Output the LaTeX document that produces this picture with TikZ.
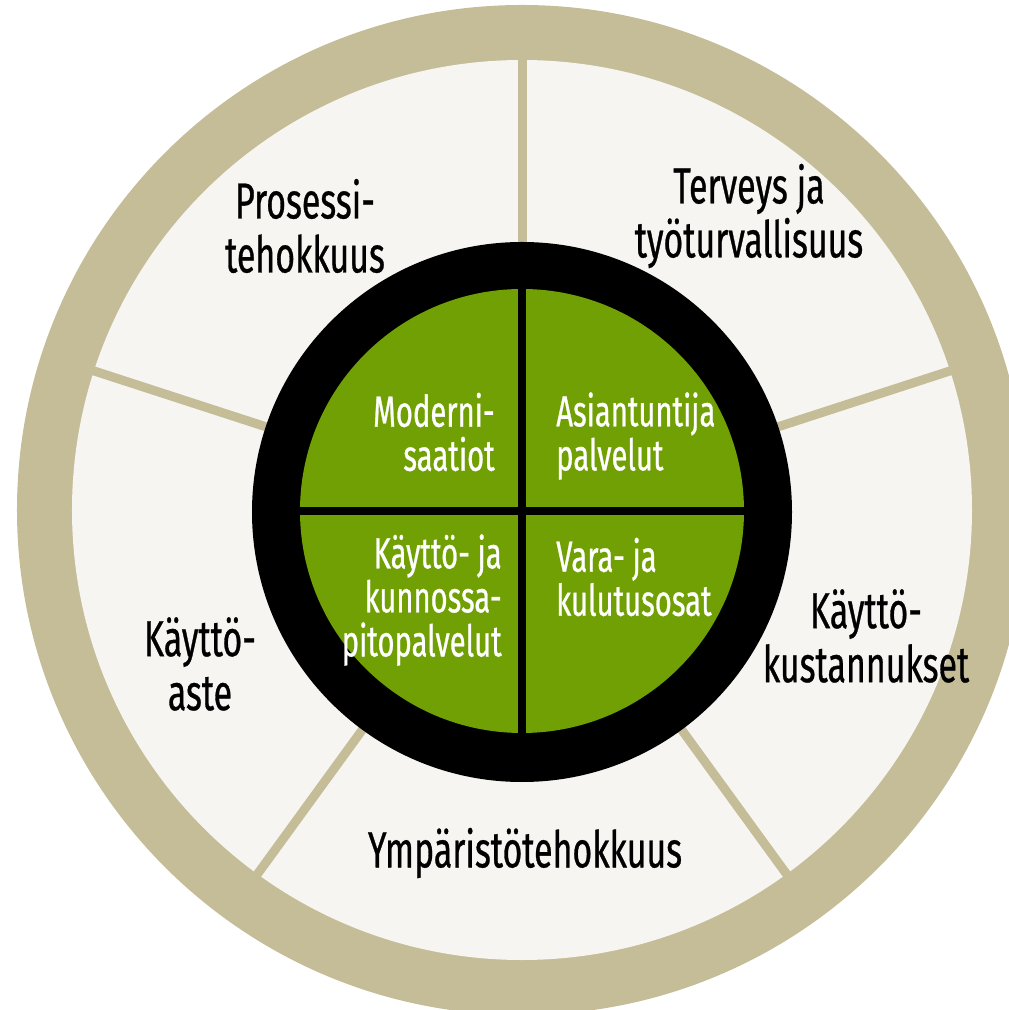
\documentclass[tikz,border=0pt]{standalone}
\usepackage{fontspec}
\setmainfont[FakeStretch=0.67, FakeBold=0.6]{Fira Sans}
\definecolor{ringtan}{HTML}{C4BD97}
\definecolor{paper}{HTML}{F6F5F1}
\definecolor{leafgreen}{HTML}{71A005}
\tikzset{
  outerlabel/.style={align=center, inner sep=0pt, font=\fontsize{36}{38.4}\selectfont},
  innerlabel/.style={text=white, inner sep=0pt, font=\fontsize{31}{31.3}\selectfont},
  divider/.style={ringtan, line width=0.225cm}
}
\begin{document}
\begin{tikzpicture}[x=0.025cm, y=0.025cm]
	\useasboundingbox (-522,-500) rectangle (486,510);
	\fill[ringtan] (0,0) circle (505);
	\fill[paper] (0,0) circle (450);
	
	\foreach \a in {18, 90, 162, 234, 306}{
		\draw[divider] (\a:265) -- (\a:460);
	}
	
	\fill[black] (0,-2) circle (270);
	\fill[leafgreen] (0,-1) circle (222);
	\draw[black, line width=0.2cm] (-230,-1) -- (230,-1);
	\draw[black, line width=0.2cm] (0,-230) -- (0,230);
	
	\node (prosessi) at (-217, 284) [outerlabel]{Prosessi-\\tehokkuus};
	\node (terveys) at (227, 294) [outerlabel]{Terveys ja\\työturvallisuus};
	\node (kustannukset) at (344, -126) [outerlabel]{Käyttö-\\kustannukset};
	\node (aste) at (-322, -154) [outerlabel]{Käyttö-\\aste};
	\node (ymparisto) at (3, -343) [outerlabel]{Ympäristötehokkuus};
	
	\node (moderni) at (-27, 78) [innerlabel, anchor=east, align=right]{Moderni-\\saatiot};
	\node (asiantuntija) at (34, 74) [innerlabel, anchor=west, align=left]{Asiantuntija\\palvelut};
	\node (kunnossapito) at (-20, -90) [innerlabel, anchor=east, align=right]{Käyttö- ja\\kunnossa-\\pitopalvelut};
	\node (varaosat) at (34, -67) [innerlabel, anchor=west, align=left]{Vara- ja\\kulutusosat};
\end{tikzpicture}
\end{document}
